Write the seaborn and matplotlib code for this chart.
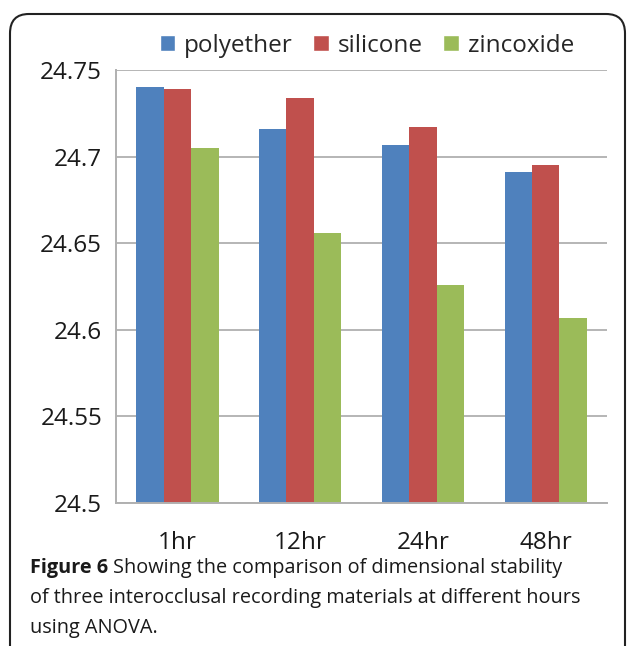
import seaborn as sns
import pandas as pd
import matplotlib
matplotlib.use('Agg')
import matplotlib.pyplot as plt
from matplotlib.patches import FancyBboxPatch, Patch

hours = ['1hr', '12hr', '24hr', '48hr']
materials = ['polyether', 'silicone', 'zincoxide']
polyether = [24.740, 24.716, 24.707, 24.691]
silicone = [24.739, 24.734, 24.717, 24.695]
zincoxide = [24.705, 24.656, 24.626, 24.607]
yticks = [24.5, 24.55, 24.6, 24.65, 24.7, 24.75]
ytick_labels = ['24.5', '24.55', '24.6', '24.65', '24.7', '24.75']
colors = ['#4F81BD', '#C0504D', '#9BBB59']

rows = []
for m, vals in zip(materials, [polyether, silicone, zincoxide]):
	for h, v in zip(hours, vals):
		rows.append([h, m, v])
db = pd.DataFrame(rows, columns=['hour', 'material', 'value'])

sns.set_style('white')
plt.rcParams['font.family'] = ['Open Sans', 'DejaVu Sans']

fig = plt.figure(figsize=(6.28, 6.46), dpi=100)
ax = fig.add_axes([0.1847, 0.2214, 0.782, 0.670])

sns.barplot(data=db, x='hour', y='value', hue='material', palette=colors,
	width=0.67, gap=0, ax=ax, legend=False, saturation=1, linewidth=0)

ax.set_ylim(24.5, 24.75)
ax.set_xlim(-0.5, 3.5)
ax.set_yticks(yticks)
ax.set_yticklabels(ytick_labels, fontsize=17.5, color='#1a1a1a')
ax.set_xticks(range(len(hours)))
ax.set_xticklabels(hours, fontsize=17.5, color='#1a1a1a')
ax.set_xticks([-0.5, 0.5, 1.5, 2.5, 3.5], minor=True)
ax.tick_params(axis='x', which='major', length=0, pad=20)
ax.tick_params(axis='x', which='minor', length=7, width=1.3, color='#b0b0b0', direction='out')
ax.tick_params(axis='y', length=7, width=1.3, color='#b0b0b0', direction='out', pad=3)
ax.set_xlabel('')
ax.set_ylabel('')
ax.yaxis.grid(True, color='#b5b5b5', linewidth=1.4)
ax.set_axisbelow(True)
for s in ['top', 'right']:
	ax.spines[s].set_visible(False)
for s in ['left', 'bottom']:
	ax.spines[s].set_color('#b0b0b0')
	ax.spines[s].set_linewidth(1.4)

handles = [Patch(facecolor=c, label=m) for c, m in zip(colors, materials)]
fig.legend(handles=handles, loc='center', bbox_to_anchor=(0.584, 0.929), ncol=3,
	frameon=False, fontsize=17.5, handlelength=0.65, handleheight=0.65,
	handletextpad=0.35, columnspacing=0.85)

# rounded border box
box = FancyBboxPatch((10 / 628, -0.05), 615 / 628, 1 - 14 / 646 + 0.05,
	boxstyle='round,pad=0,rounding_size=0.03', transform=fig.transFigure,
	facecolor='none', edgecolor='#222222', linewidth=1.5)
fig.patches.append(box)

# caption
fig.canvas.draw()
r = fig.canvas.get_renderer()
cap_kw = dict(fontsize=14.3, color='#1a1a1a', va='baseline', ha='left')
t = fig.text(30 / 628, 1 - 573 / 646, 'Figure 6', fontweight='bold', **cap_kw)
bb = t.get_window_extent(renderer=r)
fig.text(bb.x1 / 628 + 0.008, 1 - 573 / 646, 'Showing the comparison of dimensional stability', **cap_kw)
fig.text(30 / 628, 1 - 603 / 646, 'of three interocclusal recording materials at different hours', **cap_kw)
fig.text(30 / 628, 1 - 633 / 646, 'using ANOVA.', **cap_kw)

fig.savefig('out.png', dpi=100)
